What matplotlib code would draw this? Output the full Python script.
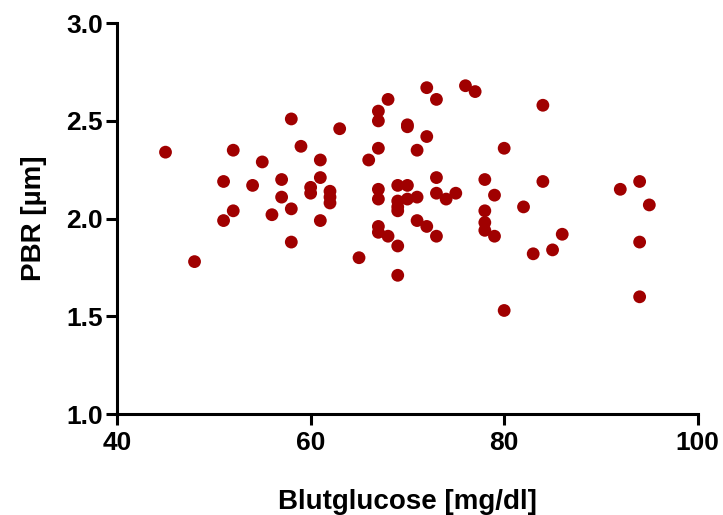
import matplotlib
matplotlib.use("Agg")
import matplotlib.pyplot as plt
from matplotlib.ticker import FormatStrFormatter

# Blutglucose [mg/dl] vs PBR [um]
glucose = [45, 48, 51, 51, 52, 52, 54, 55, 56, 57, 57,
           58, 58, 58, 59, 60, 60, 61, 61, 61, 62, 62, 62,
           63, 65, 66, 67, 67, 67, 67, 67, 67, 67,
           68, 68, 69, 69, 69, 69, 69, 69,
           70, 70, 70, 70, 71, 71, 71, 72, 72, 72,
           73, 73, 73, 73, 74, 75, 76, 77,
           78, 78, 78, 78, 79, 79, 80, 80, 82, 83, 84, 84,
           85, 86, 92, 94, 94, 94, 95]
pbr = [2.34, 1.78, 2.19, 1.99, 2.35, 2.04, 2.17, 2.29, 2.02, 2.20, 2.11,
       2.51, 2.05, 1.88, 2.37, 2.16, 2.13, 2.30, 2.21, 1.99, 2.14, 2.11, 2.08,
       2.46, 1.80, 2.30, 2.55, 2.50, 2.36, 2.15, 2.10, 1.96, 1.93,
       2.61, 1.91, 2.17, 2.09, 2.06, 2.04, 1.86, 1.71,
       2.48, 2.17, 2.10, 2.47, 2.35, 2.11, 1.99, 2.67, 2.42, 1.96,
       2.61, 2.21, 2.13, 1.91, 2.10, 2.13, 2.68, 2.65,
       2.20, 2.04, 1.98, 1.94, 2.12, 1.91, 2.36, 1.53, 2.06, 1.82, 2.58, 2.19,
       1.84, 1.92, 2.15, 2.19, 1.88, 1.60, 2.07]

plt.rcParams["font.family"] = ["Liberation Sans", "DejaVu Sans"]
plt.rcParams["font.weight"] = "bold"

fig = plt.figure(figsize=(7.23, 5.15), dpi=100)
ax = fig.add_axes([0.162, 0.196, 0.803, 0.759])

ax.scatter(glucose, pbr, s=85, color="#a00000", edgecolors="none", zorder=3)

ax.set_xlim(40, 100)
ax.set_ylim(1.0, 3.0)
ax.set_xticks([40, 60, 80, 100])
ax.set_yticks([1.0, 1.5, 2.0, 2.5, 3.0])
ax.yaxis.set_major_formatter(FormatStrFormatter("%.1f"))

for side in ["top", "right"]:
    ax.spines[side].set_visible(False)
for side in ["left", "bottom"]:
    ax.spines[side].set_linewidth(2.2)
ax.tick_params(width=2.2, length=8, labelsize=19, direction="out", pad=2)
ax.tick_params(axis="x", pad=4)
for lab in ax.get_xticklabels() + ax.get_yticklabels():
    lab.set_fontweight("bold")

ax.set_xlabel("Blutglucose [mg/dl]", fontsize=20, fontweight="bold", labelpad=25)
ax.set_ylabel("PBR [µm]", fontsize=20, fontweight="bold", labelpad=14)

fig.savefig("out.png", dpi=100)
